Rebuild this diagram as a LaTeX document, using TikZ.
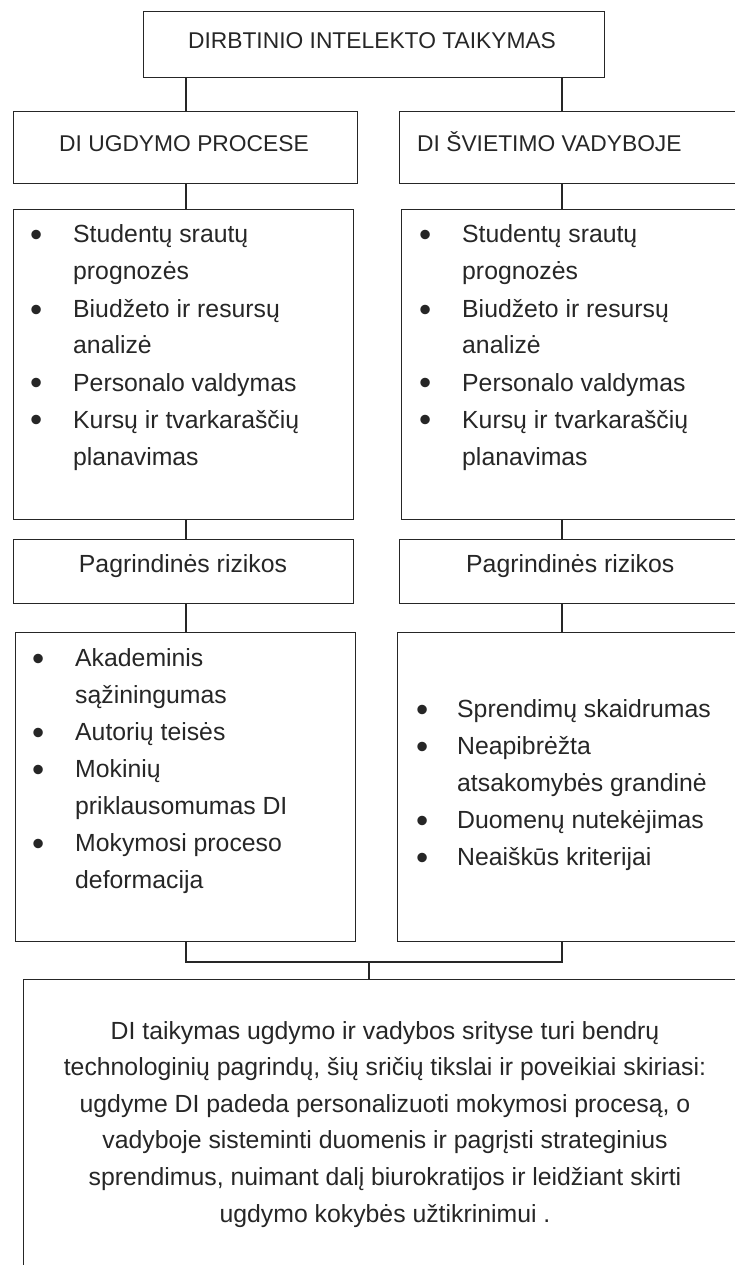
\documentclass[tikz,border=0pt]{standalone}
\usepackage{fontspec}
\setmainfont{Liberation Sans}
\newcommand{\blt}{\raisebox{-4pt}{\scalebox{1.4}{\textbullet}} &}
\begin{document}
\begin{tikzpicture}[x=1pt, y=-1pt,
        boxnode/.style={rectangle, draw=black!85, line width=1.3pt, anchor=north west, inner sep=0pt},
        txtnode/.style={inner sep=0pt, text=black!85, font=\fontsize{24.8}{37}\selectfont},
        capnode/.style={txtnode, font=\fontsize{22.8}{30}\selectfont},
        conn/.style={draw=black!85, line width=1.3pt},
        ]
        \useasboundingbox (0,0) rectangle (735,1265);
        \clip (0,0) rectangle (735,1265);

        % Column axes
        \coordinate (lc) at (186,0);
        \coordinate (rc) at (562,0);
        \coordinate (jn) at (369,962);

        % Boxes
        \node[boxnode, minimum width=461, minimum height=66] (top) at (143,11) {};
        \node[boxnode, minimum width=344, minimum height=72] (ugd) at (13,111) {};
        \node[boxnode, minimum width=344, minimum height=72] (vad) at (399,111) {};
        \node[boxnode, minimum width=340, minimum height=310] (ugdlist) at (13,209) {};
        \node[boxnode, minimum width=344, minimum height=310] (vadlist) at (401,209) {};
        \node[boxnode, minimum width=340, minimum height=64] (ugdrisk) at (13,539) {};
        \node[boxnode, minimum width=344, minimum height=64] (vadrisk) at (399,539) {};
        \node[boxnode, minimum width=340, minimum height=309] (ugdrlist) at (15,632) {};
        \node[boxnode, minimum width=344, minimum height=309] (vadrlist) at (397,632) {};
        \node[boxnode, minimum width=724, minimum height=320] (sum) at (23,979) {};

        % Texts
        \node[capnode, anchor=base] (toptxt) at (372,49) {DIRBTINIO INTELEKTO TAIKYMAS};
        \node[capnode, anchor=base] (ugdtxt) at (184,152) {DI UGDYMO PROCESE};
        \node[capnode, anchor=base west] (vadtxt) at (417,152) {DI ŠVIETIMO VADYBOJE};

        \node[txtnode, anchor=base west] (ugdlisttxt) at (30,243) {%
            \begin{tabular}[t]{@{}p{43pt}@{}l@{}}
            \blt Studentų srautų\\
                & prognozės\\
            \blt Biudžeto ir resursų\\
                & analizė\\
            \blt Personalo valdymas\\
            \blt Kursų ir tvarkaraščių\\
                & planavimas
            \end{tabular}};
        \node[txtnode, anchor=base west] (vadlisttxt) at (419,243) {%
            \begin{tabular}[t]{@{}p{43pt}@{}l@{}}
            \blt Studentų srautų\\
                & prognozės\\
            \blt Biudžeto ir resursų\\
                & analizė\\
            \blt Personalo valdymas\\
            \blt Kursų ir tvarkaraščių\\
                & planavimas
            \end{tabular}};

        \node[txtnode, anchor=base] (ugdrisktxt) at (183,572) {Pagrindinės rizikos};
        \node[txtnode, anchor=base west] (vadrisktxt) at (466,572) {Pagrindinės rizikos};

        \node[txtnode, anchor=base west] (ugdrlisttxt) at (32,666) {%
            \begin{tabular}[t]{@{}p{43pt}@{}l@{}}
            \blt Akademinis\\
                & sąžiningumas\\
            \blt Autorių teisės\\
            \blt Mokinių\\
                & priklausomumas DI\\
            \blt Mokymosi proceso\\
                & deformacija
            \end{tabular}};
        \node[txtnode, anchor=base west] (vadrlisttxt) at (416,717) {%
            \begin{tabular}[t]{@{}p{41pt}@{}l@{}}
            \blt Sprendimų skaidrumas\\
            \blt Neapibrėžta\\
                & atsakomybės grandinė\\
            \blt Duomenų nutekėjimas\\
            \blt Neaiškūs kriterijai
            \end{tabular}};

        \node[txtnode, anchor=base, font=\fontsize{24.8}{36.6}\selectfont] (sumtxt) at (385,1039) {%
            \begin{tabular}[t]{@{}c@{}}
            DI taikymas ugdymo ir vadybos srityse turi bendrų\\
            technologinių pagrindų, šių sričių tikslai ir poveikiai skiriasi:\\
            ugdyme DI padeda personalizuoti mokymosi procesą, o\\
            vadyboje sisteminti duomenis ir pagrįsti strateginius\\
            sprendimus, nuimant dalį biurokratijos ir leidžiant skirti\\
            ugdymo kokybės užtikrinimui .
            \end{tabular}};

        % Connectors
        \draw[conn] (top.south -| lc) -- (ugd.north -| lc);
        \draw[conn] (top.south -| rc) -- (vad.north -| rc);
        \draw[conn] (ugd.south -| lc) -- (ugdlist.north -| lc);
        \draw[conn] (vad.south -| rc) -- (vadlist.north -| rc);
        \draw[conn] (ugdlist.south -| lc) -- (ugdrisk.north -| lc);
        \draw[conn] (vadlist.south -| rc) -- (vadrisk.north -| rc);
        \draw[conn] (ugdrisk.south -| lc) -- (ugdrlist.north -| lc);
        \draw[conn] (vadrisk.south -| rc) -- (vadrlist.north -| rc);

        % Both risk lists meet the summary
        \draw[conn] (ugdrlist.south -| lc) |- (jn) -| (vadrlist.south -| rc);
        \draw[conn] (jn) -- (sum.north -| jn);

\end{tikzpicture}
\end{document}
